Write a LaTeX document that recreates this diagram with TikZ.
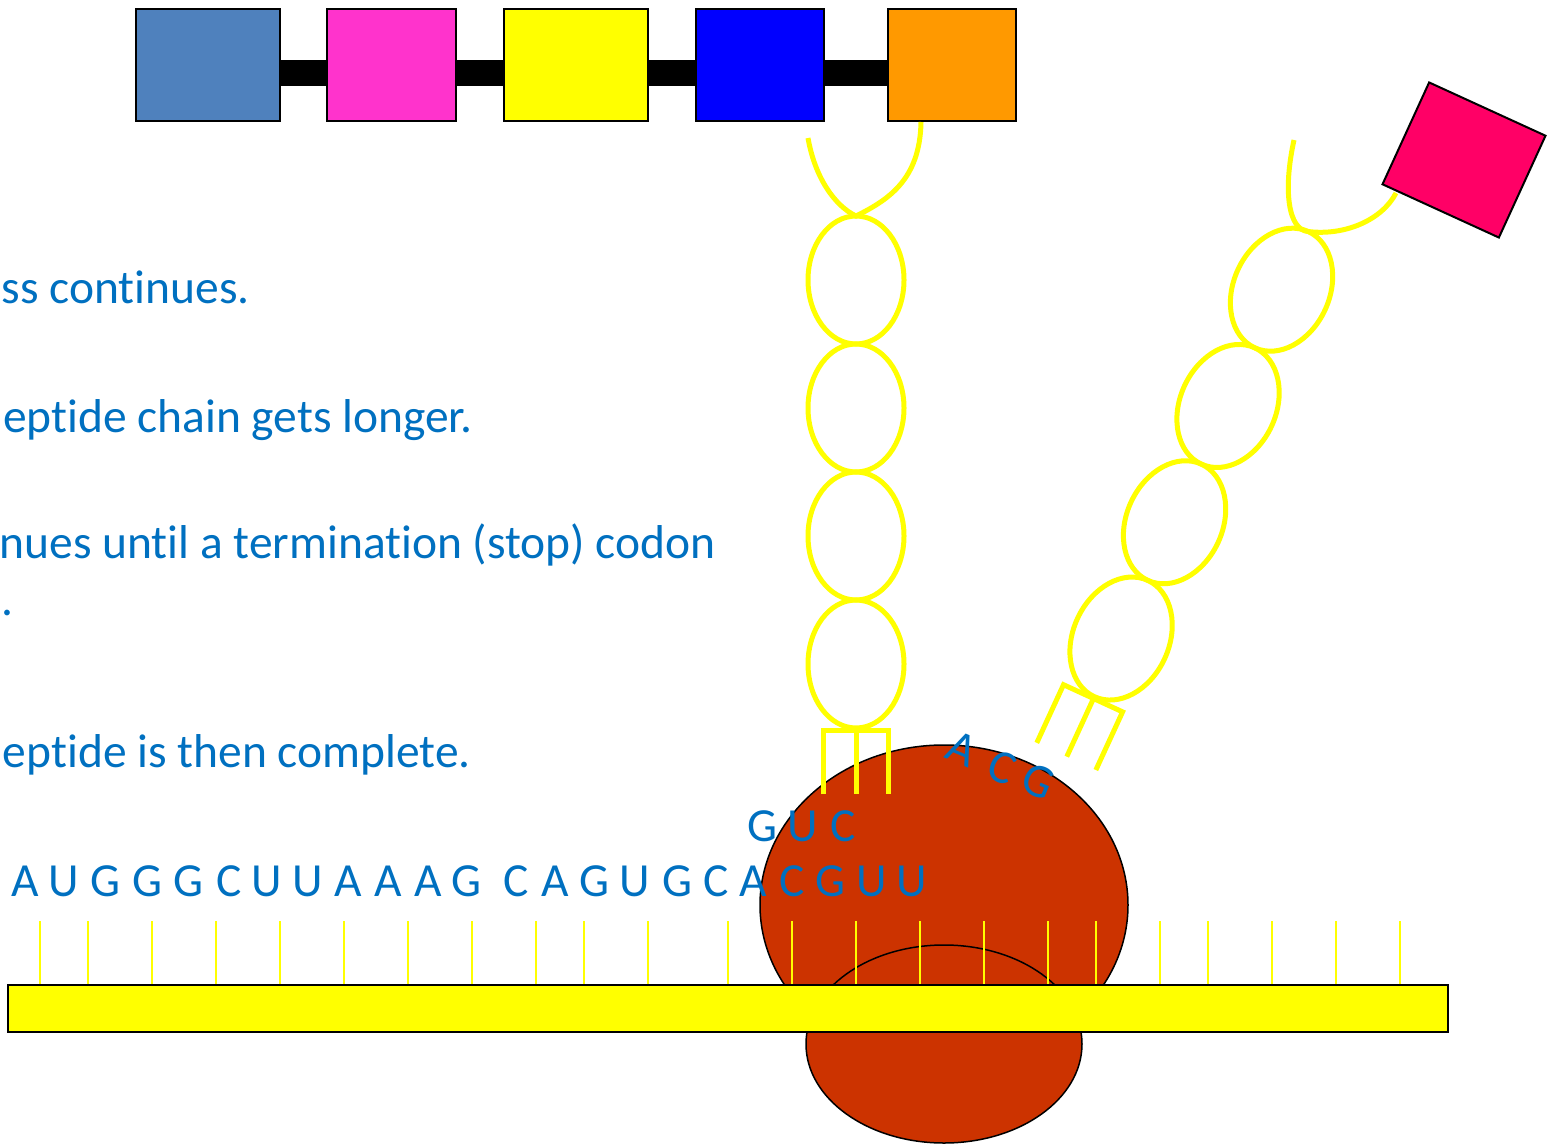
\documentclass[tikz,border=0pt]{standalone}
\usepackage{fontspec}
\setmainfont{Carlito}[Ligatures=NoCommon]
\usepackage{tikz}
\usetikzlibrary{calc,shapes,positioning}

\definecolor{steel}{HTML}{4F81BD}
\definecolor{pinkaa}{HTML}{FF33CC}
\definecolor{yel}{HTML}{FFFF00}
\definecolor{orangeaa}{HTML}{FF9900}
\definecolor{rosered}{HTML}{FF0066}
\definecolor{ribo}{HTML}{CC3300}
\definecolor{textblue}{HTML}{0070C0}

\newcommand{\slidefont}{\fontsize{47.5}{56}\selectfont}

\begin{document}
\begin{tikzpicture}[x=1pt,y=-1pt]
      \tikzstyle{amino} = [draw=black, line width=2pt, inner sep=0pt, minimum height=112]
      \tikzstyle{bond} = [line width=26pt, black]
      \tikzstyle{trna} = [draw=yel, line width=5pt]
      \tikzstyle{rung} = [draw=yel, line width=1.5pt]
      \tikzstyle{rnode} = [draw=black, line width=1.5pt, fill=ribo, ellipse, inner sep=0pt]
      \tikzstyle{nuc} = [text=textblue, font=\slidefont, inner sep=0pt]

      \useasboundingbox (0,0) rectangle (1550,1145);

      % text lines
      \node[nuc, anchor=base east] (l1) at (250,303) {ss continues.};
      \node[nuc, anchor=base east] (l2) at (473,432) {eptide chain gets longer.};
      \node[nuc, anchor=base east] (l3) at (716,558) {nues until a termination (stop) codon};
      \node[nuc, anchor=base west] (l4) at (1,615) {.};
      \node[nuc, anchor=base east] (l5) at (471,767) {eptide is then complete.};

      % growing chain
      \node[amino, fill=steel, minimum width=144] (aa1) at (208,65) {};
      \node[amino, fill=pinkaa, minimum width=129] (aa2) at (391.5,65) {};
      \node[amino, fill=yel, minimum width=144] (aa3) at (576,65) {};
      \node[amino, fill=blue, minimum width=128] (aa4) at (760,65) {};
      \node[amino, fill=orangeaa, minimum width=128] (aa5) at (952,65) {};
      \draw[bond] ([yshift=-8pt]aa1.east) -- ([yshift=-8pt]aa2.west);
      \draw[bond] ([yshift=-8pt]aa2.east) -- ([yshift=-8pt]aa3.west);
      \draw[bond] ([yshift=-8pt]aa3.east) -- ([yshift=-8pt]aa4.west);
      \draw[bond] ([yshift=-8pt]aa4.east) -- ([yshift=-8pt]aa5.west);

      % ribosome
      \node[rnode, minimum width=368, minimum height=320] (large) at (944,905) {};
      \node[rnode, minimum width=276, minimum height=198] (small) at (944,1044) {};

      % mRNA
      \foreach \x in {40,88,152,216,280,344,408,472,536,584,648,728,792,856,920,984,1048,1096,1160,1208,1272,1336,1400}
        \draw[rung] (\x,921) -- (\x,985);
      \node[draw=black, line width=2.5pt, fill=yel, inner sep=0pt, minimum width=1440, minimum height=47] (mrna) at (728,1008.5) {};
      \foreach \x/\b in {25/A,64/U,105/G,147/G,188/G,229/C,267/U,308/U,348/A,388/A,428/A,466/G,
                         516/C,555/A,594/G,635/U,677/G,716/C,753/A,792/C,830/G,872/U,912/U}
        \node[nuc, anchor=base] at (\x,896) {\b};

      % tRNA in the P site
      \begin{scope}[shift={(856,730)}]
        \foreach \k in {0,...,3}
          \draw[trna] (0,-66-128*\k) ellipse [x radius=48, y radius=64];
        \draw[trna] (-33,64) -- (-33,0) -- (32,0) -- (32,64);
        \draw[trna] (0,0) -- (0,64);
        \coordinate (top1) at (0,-514);
      \end{scope}
      \coordinate (tail1) at (808,138);
      \draw[trna] (tail1) .. controls (815,178) and (835,206) .. (top1)
                  .. controls (888,200) and (920,180) .. ([xshift=-31pt]aa5.south);
      \node[nuc] (g1) at (762,826) {G};
      \node[nuc] (u1) at (803,826) {U};
      \node[nuc] (c1) at (843,826) {C};

      % tRNA leaving
      \begin{scope}[shift={(1093.5,698.5)}, rotate=-24.7]
        \foreach \k in {0,...,3}
          \draw[trna] (0,-66-128*\k) ellipse [x radius=48, y radius=64];
        \draw[trna] (-33,64) -- (-33,0) -- (32,0) -- (32,64);
        \draw[trna] (0,0) -- (0,64);
        \coordinate (top2) at (0,-514);
      \end{scope}
      \coordinate (tail2) at (1294,140);
      \coordinate (link) at (1396,193);
      \draw[trna] (tail2) .. controls (1283,190) and (1288,230) .. (top2)
                  .. controls (1345,236) and (1382,220) .. (link);
      \node[amino, fill=rosered, minimum width=128, rotate=-24.6] (aa6) at (1464,160) {};
      \node[nuc, rotate=-23] (a2) at (962,749) {A};
      \node[nuc, rotate=-23] (c2) at (1002,767) {C};
      \node[nuc, rotate=-23] (g2) at (1038,781) {G};
\end{tikzpicture}
\end{document}
